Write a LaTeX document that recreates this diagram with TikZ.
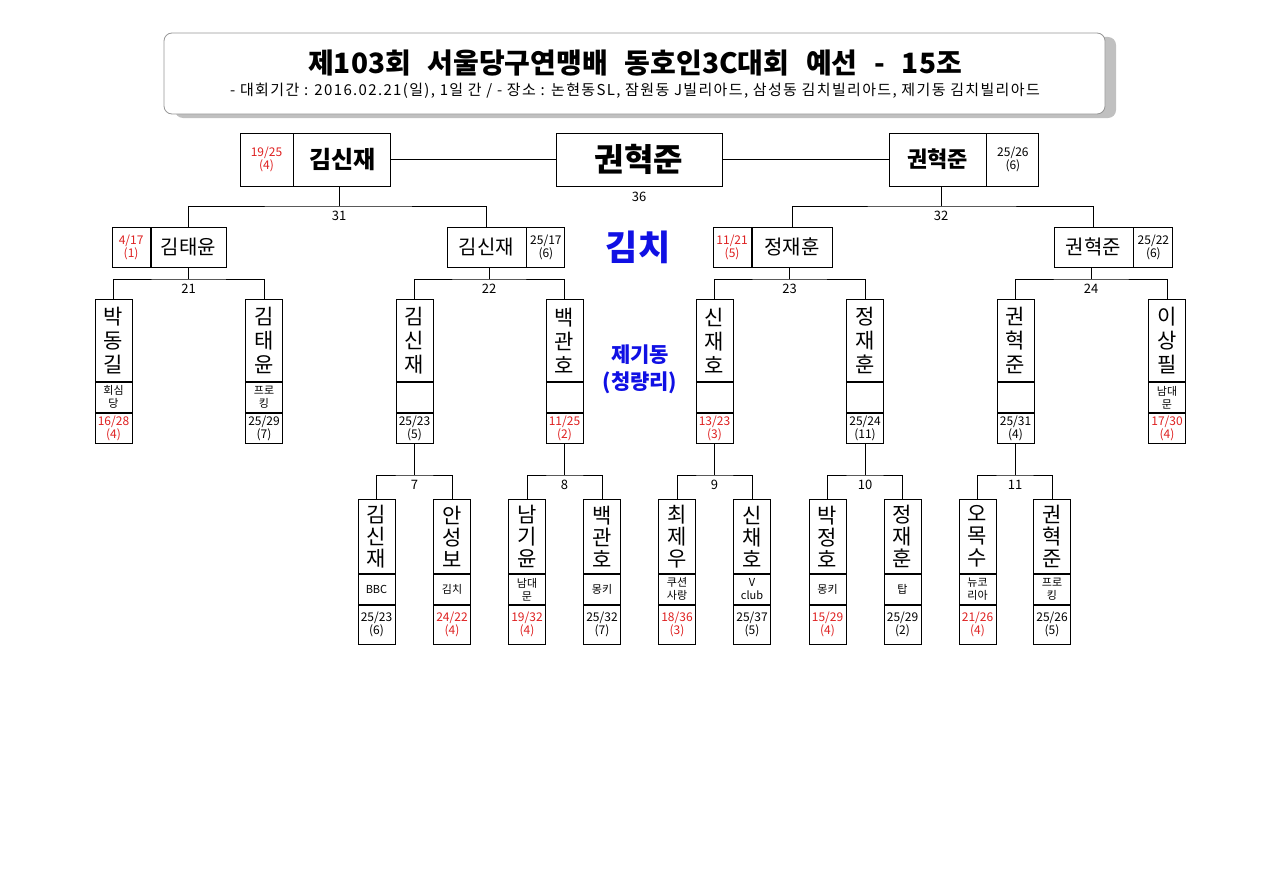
\documentclass[tikz,border=0pt]{standalone}
\usepackage{fontspec}
\setmainfont{Noto Sans CJK KR}
\usetikzlibrary{positioning, shadows}
\definecolor{losered}{RGB}{222,32,32}
\definecolor{venueblue}{RGB}{16,16,228}
\definecolor{framegray}{RGB}{150,150,150}
\definecolor{shadegray}{RGB}{192,192,192}

\begin{document}
\begin{tikzpicture}
    [x=1pt, y=-1pt, line width=.9pt,
     font=\fontsize{12}{13}\selectfont,
     cell/.style={draw, inner sep=0pt, align=center},
     namecell/.style={cell, anchor=north, minimum width=37,
                      font=\fontsize{21}{24}\selectfont},
     clubcell/.style={cell, minimum width=37, minimum height=30,
                      font=\fontsize{11}{13}\selectfont},
     scorecell/.style={cell, minimum width=37},
     num/.style={anchor=north, inner xsep=0pt, inner ysep=5pt,
                 font=\fontsize{13}{13}\selectfont},
    ]
    \useasboundingbox (0,0) rectangle (1281,891);

    % Title
    \node[draw=framegray, line width=.8pt, rounded corners=8pt, fill=white,
          minimum width=941, minimum height=81,
          drop shadow={shadow xshift=11pt, shadow yshift=-4pt,
                       opacity=1, fill=shadegray}]
        (frame) at (634.5,73.5) {};
    \node[font=\fontsize{28}{28}\selectfont\bfseries] (title) at (635,63)
        {제103회\hspace{.6em}서울당구연맹배\hspace{.6em}동호인3C대회\hspace{.6em}예선\hspace{.6em}-\hspace{.6em}15조};
    \node[font=\fontsize{15}{15}\selectfont\addfontfeature{LetterSpace=9}] (period) at (635,91)
        {- 대회기간 : 2016.02.21(일), 1일 간 / - 장소 : 논현동SL, 잠원동 J빌리아드, 삼성동 김치빌리아드, 제기동 김치빌리아드};

    % Final
    \node[cell, minimum width=166, minimum height=53,
          font=\fontsize{32}{32}\selectfont\bfseries] (champ) at (639,159.5) {권혁준};
    \node[cell, minimum width=53, minimum height=53, text=losered] (s31) at (266.5,159.5) {19/25\\(4)};
    \node[cell, minimum width=97, minimum height=53, right=0pt of s31,
          font=\fontsize{24}{24}\selectfont\bfseries] (w31) {김신재};
    \node[cell, minimum width=97, minimum height=53,
          font=\fontsize{22}{22}\selectfont\bfseries] (w32) at (937.5,159.5) {권혁준};
    \node[cell, minimum width=52, minimum height=53, right=0pt of w32] (s32) {25/26\\(6)};
    \draw (w31.east) -- (champ.west);
    \draw (champ.east) -- (w32.west);
    \node[num, below=0pt of champ] (n36) {36};

    % Semi finals
    \node[cell, minimum width=75, minimum height=40, font=\fontsize{20}{20}\selectfont] (w21) at (188.5,247) {김태윤};
    \node[cell, minimum width=38, minimum height=40, left=0pt of w21, text=losered] (s21) {4/17\\(1)};
    \node[cell, minimum width=79, minimum height=40, font=\fontsize{20}{20}\selectfont] (w22) at (486.5,247) {김신재};
    \node[cell, minimum width=38, minimum height=40, right=0pt of w22] (s22) {25/17\\(6)};
    \node[cell, minimum width=80, minimum height=40, font=\fontsize{20}{20}\selectfont] (w23) at (792,247) {정재훈};
    \node[cell, minimum width=38, minimum height=40, left=0pt of w23, text=losered] (s23) {11/21\\(5)};
    \node[cell, minimum width=79, minimum height=40, font=\fontsize{20}{20}\selectfont] (w24) at (1093.5,247) {권혁준};
    \node[cell, minimum width=39, minimum height=40, right=0pt of w24] (s24) {25/22\\(6)};

    % Venues
    \node[text=venueblue, font=\fontsize{35}{35}\selectfont\bfseries] (kimchi) at (638,247) {김치};
    \node[text=venueblue, align=center, font=\fontsize{21}{27}\selectfont\bfseries] (jegi) at (640,369) {제기동\\(청량리)};

    % Quarter finals
    \foreach \id / \px / \nm / \club / \sa / \sb / \rk / \col in
             {p1/113.5/{박\\동\\길}/{회심\\당}/16/28/4/losered,
              p2/264/{김\\태\\윤}/{프로\\킹}/25/29/7/black,
              p3/414.5/{김\\신\\재}/{}/25/23/5/black,
              p4/564.5/{백\\관\\호}/{}/11/25/2/losered,
              p5/714.5/{신\\재\\호}/{}/13/23/3/losered,
              p6/865/{정\\재\\훈}/{}/25/24/11/black,
              p7/1015.5/{권\\혁\\준}/{}/25/31/4/black,
              p8/1167/{이\\상\\필}/{남대\\문}/17/30/4/losered} {
        \node[namecell, minimum height=82] (\id) at (\px,299) {\nm};
        \node[clubcell, below=0pt of \id] (\id-c) {\club};
        \node[scorecell, minimum height=30, below=0pt of \id-c, text=\col] (\id-s) {\sa/\sb\\(\rk)};
    }

    % First round
    \foreach \id / \px / \nm / \club / \sa / \sb / \rk / \col in
             {q1/376.5/{김\\신\\재}/BBC/25/23/6/black,
              q2/452/{안\\성\\보}/김치/24/22/4/losered,
              q3/527/{남\\기\\윤}/{남대\\문}/19/32/4/losered,
              q4/602/{백\\관\\호}/몽키/25/32/7/black,
              q5/677/{최\\제\\우}/{쿠션\\사랑}/18/36/3/losered,
              q6/752/{신\\채\\호}/{V\\club}/25/37/5/black,
              q7/827.5/{박\\정\\호}/몽키/15/29/4/losered,
              q8/902.5/{정\\재\\훈}/탑/25/29/2/black,
              q9/977.5/{오\\목\\수}/{뉴코\\리아}/21/26/4/losered,
              q10/1052/{권\\혁\\준}/{프로\\킹}/25/26/5/black} {
        \node[namecell, minimum height=74, font=\fontsize{21}{22}\selectfont] (\id) at (\px,499) {\nm};
        \node[clubcell, below=0pt of \id] (\id-c) {\club};
        \node[scorecell, minimum height=39, below=0pt of \id-c, text=\col] (\id-s) {\sa/\sb\\(\rk)};
    }

    % Match numbers
    \foreach \m / \x / \y in {31/339/206, 32/941/206,
                              21/188.5/279, 22/489/279, 23/789.5/279, 24/1091/279,
                              7/414.5/475, 8/564.5/475, 9/714.5/475, 10/865/475, 11/1015/475}
        \node[num] (n\m) at (\x,\y) {\m};

    % Brackets
    \foreach \m / \a / \b / \w in {31/w21/w22/w31, 32/w23/w24/w32,
                                   21/p1/p2/w21, 22/p3/p4/w22, 23/p5/p6/w23, 24/p7/p8/w24,
                                   7/q1/q2/p3-s, 8/q3/q4/p4-s, 9/q5/q6/p5-s,
                                   10/q7/q8/p6-s, 11/q9/q10/p7-s} {
        \draw (\a.north) |- (n\m.north) -| (\b.north);
        \draw (n\m.north) -- (n\m.north |- \w.south);
    }
\end{tikzpicture}
\end{document}
